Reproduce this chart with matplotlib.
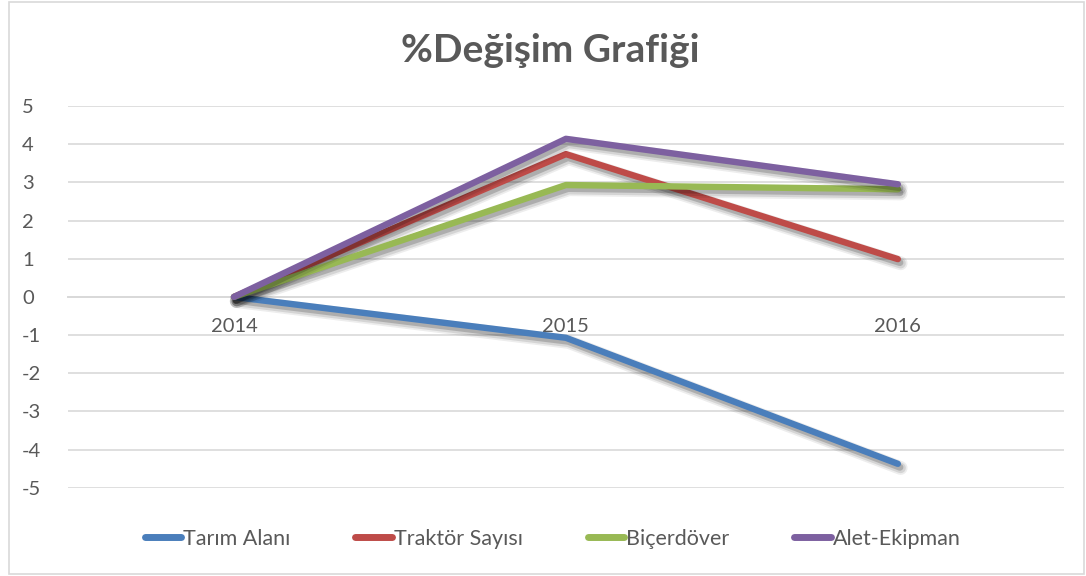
import matplotlib.pyplot as plt
import matplotlib.patheffects as pe
from matplotlib.patches import Rectangle

# data
years = ["2014", "2015", "2016"]
tarim_alani = [0, -1.07, -4.37]
traktor_sayisi = [0, 3.74, 0.99]
bicerdover = [0, 2.93, 2.82]
alet_ekipman = [0, 4.14, 2.95]

series = [
    ("Tarım Alanı", tarim_alani, "#4A7EBB"),
    ("Traktör Sayısı", traktor_sayisi, "#BE4B48"),
    ("Biçerdöver", bicerdover, "#98B954"),
    ("Alet-Ekipman", alet_ekipman, "#7D60A0"),
]

plt.rcParams["font.family"] = ["Lato", "DejaVu Sans"]
plt.rcParams["axes.unicode_minus"] = False
text_gray = "#595959"
grid_gray = "#D9D9D9"

fig = plt.figure(figsize=(10.86, 5.76), dpi=100)
fig.patches.append(Rectangle((0.008, 0.003), 0.99, 0.993, transform=fig.transFigure,
                             fill=False, edgecolor="#D9D9D9", linewidth=1.2))
ax = fig.add_axes([0.0626, 0.153, 0.917, 0.663])

x = list(range(len(years)))
# soft shadow: a few wide, faint layers under the line
shadow = [
    pe.SimpleLineShadow(offset=(2, -3), alpha=0.07, shadow_color="black", linewidth=10),
    pe.SimpleLineShadow(offset=(2, -3), alpha=0.10, shadow_color="black", linewidth=7.5),
    pe.SimpleLineShadow(offset=(1.5, -2.5), alpha=0.18, shadow_color="black", linewidth=5),
    pe.Normal(),
]
for name, vals, col in series:
    ax.plot(x, vals, color=col, linewidth=4.6, solid_capstyle="round",
            solid_joinstyle="round", label=name, path_effects=shadow, zorder=3)

ax.set_xlim(-0.5, 2.5)
ax.set_ylim(-5, 5)
ax.set_yticks(range(-5, 6))
ax.set_xticks(x)
ax.set_xticklabels(years)
ax.grid(axis="y", color=grid_gray, linewidth=1.2, zorder=0)
ax.set_axisbelow(True)
for s in ["top", "right", "left"]:
    ax.spines[s].set_visible(False)
ax.spines["bottom"].set_position(("data", 0))
ax.spines["bottom"].set_color(grid_gray)
ax.spines["bottom"].set_linewidth(1.4)
ax.tick_params(axis="both", length=0, labelsize=14.5, labelcolor=text_gray)
ax.tick_params(axis="x", pad=15)
ax.tick_params(axis="y", pad=33)
for lbl in ax.get_yticklabels():
    lbl.set_horizontalalignment("left")

fig.text(0.507, 0.912, "%Değişim Grafiği", ha="center", va="center",
         fontsize=28, fontweight="bold", color=text_gray)

leg = fig.legend(loc="center", bbox_to_anchor=(0.509, 0.065), ncol=4, frameon=False,
                 fontsize=15.5, handlelength=1.7, handletextpad=0.1, columnspacing=3.0)
for t in leg.get_texts():
    t.set_color(text_gray)
for h in leg.get_lines():
    h.set_path_effects([])
    h.set_linewidth(5)
    h.set_solid_capstyle("round")

fig.savefig("out.png", dpi=100)
